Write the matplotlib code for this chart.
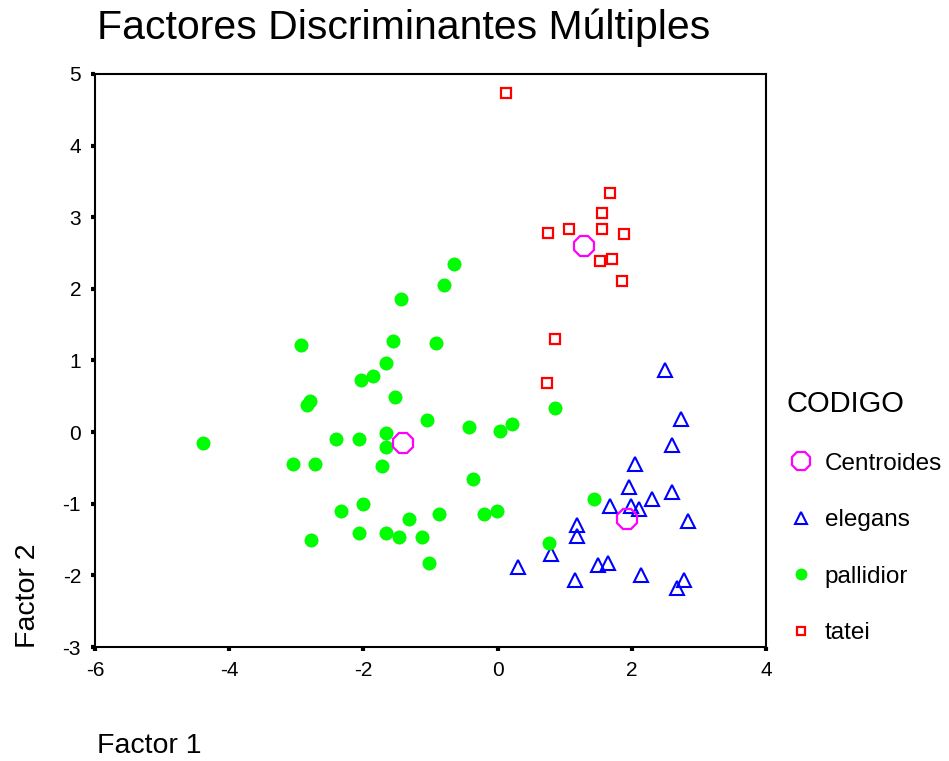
import matplotlib
matplotlib.use("Agg")
import matplotlib.pyplot as plt
from matplotlib.lines import Line2D

plt.rcParams['font.family'] = ['Liberation Sans', 'DejaVu Sans']

# pallidior (green filled circles)
pallidior_x = [-0.65, -0.80, -1.44, -2.93, -1.56, -0.92, -1.66, -1.86, -2.03, -1.53,
               -2.79, -2.84, -1.05, -0.43, 0.22, 0.04, 0.85, -4.39, -2.41, -2.07,
               -1.66, -1.66, -3.05, -2.72, -1.72, -0.37, -2.01, -2.34, -1.32, -0.88,
               -0.21, -0.01, -2.07, -1.67, -1.47, -1.12, -2.78, -1.02, 0.76, 1.44]
pallidior_y = [2.35, 2.05, 1.86, 1.21, 1.27, 1.24, 0.96, 0.78, 0.73, 0.49,
               0.44, 0.38, 0.17, 0.07, 0.12, 0.01, 0.33, -0.15, -0.10, -0.10,
               -0.01, -0.21, -0.45, -0.45, -0.47, -0.65, -1.00, -1.10, -1.21, -1.15,
               -1.15, -1.10, -1.41, -1.41, -1.46, -1.46, -1.50, -1.83, -1.55, -0.94]

# elegans (blue open triangles)
elegans_x = [2.49, 2.74, 2.60, 2.05, 1.96, 2.30, 2.60, 1.68, 1.99, 2.10, 2.84,
             1.19, 1.19, 0.79, 0.31, 1.49, 1.65, 1.16, 2.13, 2.78, 2.67]
elegans_y = [0.87, 0.19, -0.18, -0.45, -0.76, -0.93, -0.83, -1.03, -1.03, -1.07, -1.24,
             -1.30, -1.45, -1.70, -1.89, -1.86, -1.83, -2.06, -2.00, -2.06, -2.18]

# tatei (red open squares)
tatei_x = [0.13, 1.68, 1.56, 1.06, 1.56, 0.75, 1.89, 1.70, 1.53, 1.86, 0.85, 0.73]
tatei_y = [4.74, 3.34, 3.06, 2.84, 2.84, 2.78, 2.76, 2.42, 2.39, 2.11, 1.30, 0.69]

# group centroids
centroid_x = [-1.41, 1.93, 1.28]
centroid_y = [-0.15, -1.21, 2.60]

x_ticks = [-6, -4, -2, 0, 2, 4]
y_ticks = [-3, -2, -1, 0, 1, 2, 3, 4, 5]

fig = plt.figure(figsize=(9.49, 7.61), dpi=100)
ax = fig.add_axes([0.1001, 0.1498, 0.7071, 0.7530])

ax.plot(elegans_x, elegans_y, linestyle='none', marker='^', markersize=10,
        markerfacecolor='none', markeredgecolor='#0000FF', markeredgewidth=1.5)
ax.plot(pallidior_x, pallidior_y, linestyle='none', marker='o', markersize=9.5,
        markerfacecolor='#00FF00', markeredgecolor='#00EE00', markeredgewidth=0.5)
ax.plot(tatei_x, tatei_y, linestyle='none', marker='s', markersize=6.5,
        markerfacecolor='none', markeredgecolor='#FF0000', markeredgewidth=1.6)
ax.plot(centroid_x, centroid_y, linestyle='none', marker='8', markersize=16,
        markerfacecolor='none', markeredgecolor='#FF00FF', markeredgewidth=1.6)

ax.set_xlim(-6, 4)
ax.set_ylim(-3, 5)
ax.set_xticks(x_ticks)
ax.set_yticks(y_ticks)
ax.set_xticklabels([str(v) for v in x_ticks])
ax.set_yticklabels([str(v) for v in y_ticks])
ax.tick_params(direction='out', length=3, width=3, labelsize=15, pad=7, color='black')
for s in ax.spines.values():
    s.set_linewidth(1.5)
    s.set_color('black')

fig.text(0.102, 1 - 39 / 761, "Factores Discriminantes Múltiples", fontsize=29.5,
         ha='left', va='baseline')
fig.text(0.102, 1 - 753 / 761, "Factor 1", fontsize=20.5, ha='left', va='baseline')
fig.text(0.029, 1 - 648 / 761, "Factor 2", fontsize=20.5, ha='center', va='bottom',
         rotation=90)

handles = [
    Line2D([], [], linestyle='none', marker='8', markersize=14,
           markerfacecolor='none', markeredgecolor='#FF00FF', markeredgewidth=1.6),
    Line2D([], [], linestyle='none', marker='^', markersize=8,
           markerfacecolor='none', markeredgecolor='#0000FF', markeredgewidth=1.5),
    Line2D([], [], linestyle='none', marker='o', markersize=8,
           markerfacecolor='#00FF00', markeredgecolor='#00EE00', markeredgewidth=0.5),
    Line2D([], [], linestyle='none', marker='s', markersize=6,
           markerfacecolor='none', markeredgecolor='#FF0000', markeredgewidth=1.6),
]
labels = ["Centroides", "elegans", "pallidior", "tatei"]
leg = fig.legend(handles, labels, loc='upper left', bbox_to_anchor=(0.818, 0.5),
                 frameon=False, fontsize=17.5, title="CODIGO", title_fontsize=21,
                 labelspacing=1.42, handletextpad=0.4, handlelength=1.2,
                 borderaxespad=0)
leg._legend_box.align = "left"

fig.savefig("out.png", dpi=100, facecolor='white')
